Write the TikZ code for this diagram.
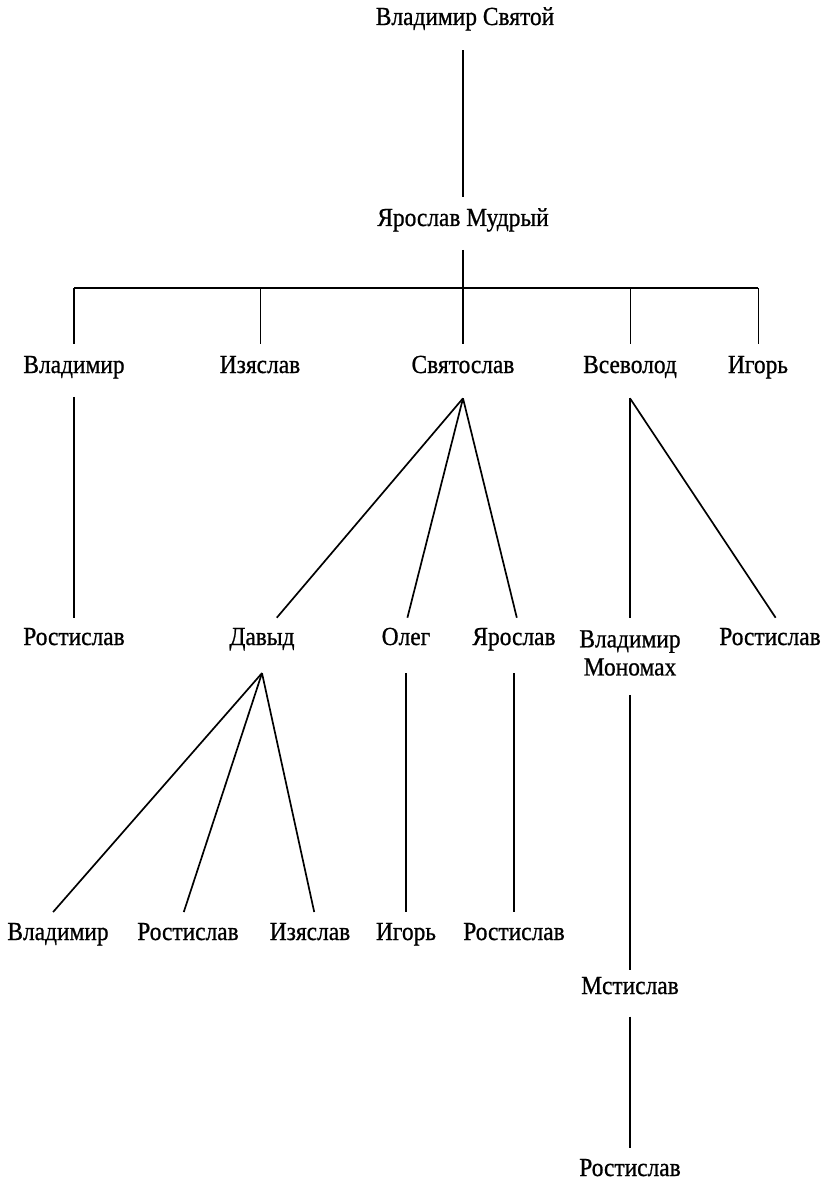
\documentclass[tikz,border=0pt]{standalone}
\usepackage{fontspec}
\setmainfont{Liberation Serif}[FakeBold=0.8, FakeStretch=0.9]
\tikzset{
    person/.style={
        inner sep = 0pt, anchor = base,
        text height = 10.7pt, text depth = 2.8pt,
        font = \fontsize{18.5}{20}\selectfont
    },
    twoline/.style={
        inner sep = 0pt, anchor = north, align = center,
        font = \fontsize{18.5}{20}\selectfont
    },
    link/.style = {line width = 1.2pt},
    thinlink/.style = {line width = 0.6pt}
}
\begin{document}
\begin{tikzpicture}[x=0.025cm, y=-0.025cm]
    \useasboundingbox (0,0) rectangle (832,1181);

    % Vladimir and Yaroslav
    \node[person] (vsv) at (465,25) {Владимир Святой};
    \node[person] (ym) at (463,226) {Ярослав Мудрый};

    % Sons of Yaroslav
    \node[person] (vl) at (74,373) {Владимир};
    \node[person] (iz) at (260,373) {Изяслав};
    \node[person] (sv) at (463,373) {Святослав};
    \node[person] (vsev) at (630,373) {Всеволод};
    \node[person] (ig) at (758,373) {Игорь};

    % Grandsons
    \node[person] (ros1) at (74,645) {Ростислав};
    \node[person] (dav) at (262,645) {Давыд};
    \node[person] (oleg) at (406,645) {Олег};
    \node[person] (yar) at (514,645) {Ярослав};
    \node[twoline] (vmon) at (630,630) {Владимир\\Мономах};
    \node[person] (ros2) at (770,645) {Ростислав};

    % Next generation
    \node[person] (vl2) at (58,940) {Владимир};
    \node[person] (ros3) at (188,940) {Ростислав};
    \node[person] (iz2) at (310,940) {Изяслав};
    \node[person] (ig2) at (406,940) {Игорь};
    \node[person] (ros4) at (514,940) {Ростислав};
    \node[person] (mst) at (630,994) {Мстислав};
    \node[person] (ros5) at (630,1176) {Ростислав};

    % Connectors
    \draw[link] ([yshift=-15pt]ym.north |- vsv.south) -- ([yshift=10pt]ym.north);
    \coordinate (bar) at (463,288);
    \draw[link] ([yshift=-14pt]ym.south) -- (bar);
    \draw[link] (vl |- bar) -- (ig |- bar);
    \foreach \son in {vl, sv}
        \draw[link] (\son |- bar) -- ([yshift=10pt]\son.north);
    \foreach \son in {iz, vsev, ig}
        \draw[thinlink] (\son |- bar) -- ([yshift=10pt]\son.north);

    \draw[link] ([yshift=-14pt]vl.south) -- ([yshift=8.5pt]ros1.north);

    \coordinate (sv-fan) at ([yshift=-15pt]sv.south);
    \draw[link] (sv-fan) -- ([xshift=10.5pt,yshift=8.5pt]dav.north);
    \draw[link] (sv-fan) -- ([xshift=1pt,yshift=8.5pt]oleg.north);
    \draw[link] (sv-fan) -- ([xshift=2pt,yshift=8.5pt]yar.north);

    \coordinate (vsev-fan) at ([yshift=-15pt]vsev.south);
    \draw[link] (vsev-fan) -- ([yshift=8.5pt]vmon.north);
    \draw[link] (vsev-fan) -- ([xshift=4pt,yshift=8.5pt]ros2.north);

    \coordinate (dav-fan) at ([yshift=-17pt]dav.south);
    \draw[link] (dav-fan) -- ([xshift=-3.5pt,yshift=9pt]vl2.north);
    \draw[link] (dav-fan) -- ([xshift=-3pt,yshift=9pt]ros3.north);
    \draw[link] (dav-fan) -- ([xshift=3pt,yshift=9pt]iz2.north);

    \draw[link] ([yshift=-17pt]oleg.south) -- ([yshift=9pt]ig2.north);
    \draw[link] ([yshift=-17pt]yar.south) -- ([yshift=9pt]ros4.north);
    \draw[link] ([yshift=-13.5pt]vmon.south) -- ([yshift=6.5pt]mst.north);
    \draw[link] ([yshift=-13pt]mst.south) -- ([yshift=9pt]ros5.north);

\end{tikzpicture}
\end{document}
